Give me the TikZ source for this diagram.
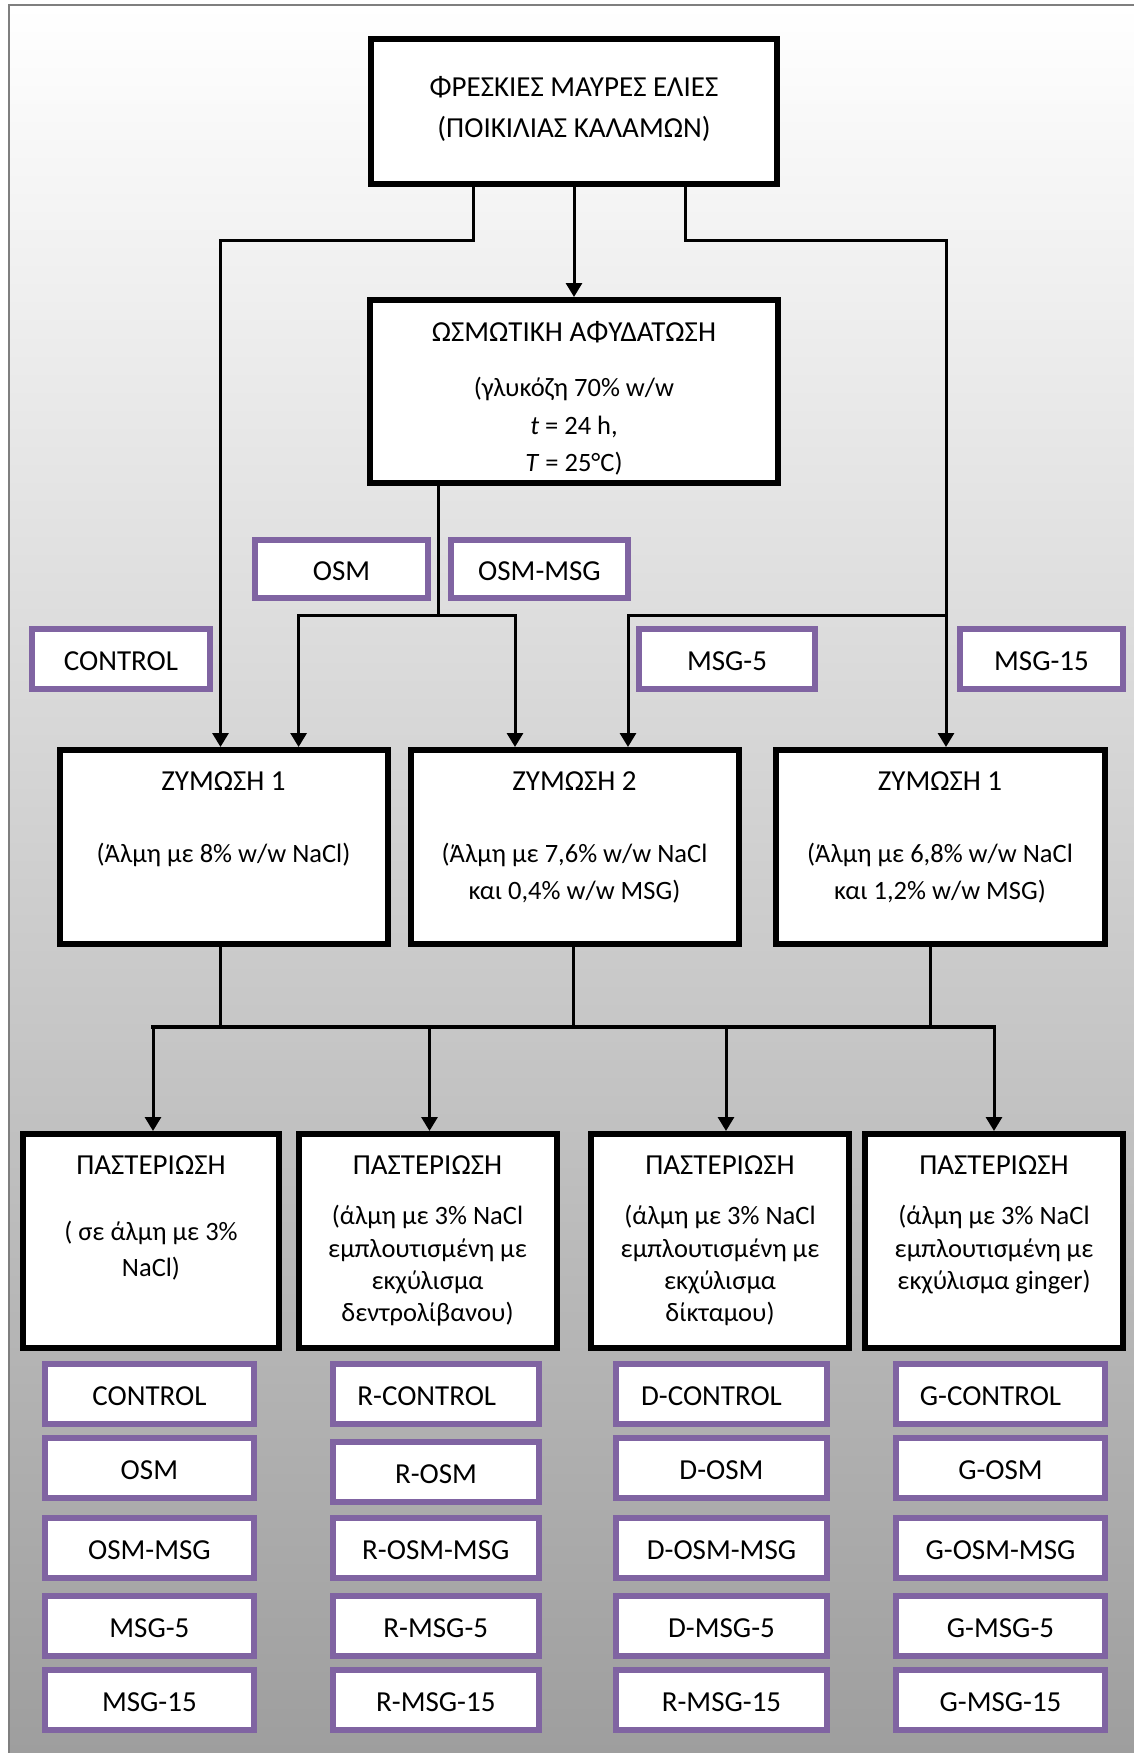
\documentclass[tikz,border=0pt]{standalone}
\usepackage{fontspec}
\setmainfont{Carlito}
\usetikzlibrary{arrows.meta}
\definecolor{purp}{HTML}{8064A2}
\definecolor{bgbot}{HTML}{9E9E9E}
\definecolor{framec}{HTML}{7F7F7F}
\begin{document}
\begin{tikzpicture}[x=1pt,y=-1pt,
  every node/.style={font=\fontsize{29}{35}\selectfont},
  bigbox/.style={draw=black, line width=6pt, fill=white, inner sep=0pt},
  tagbox/.style={draw=purp, line width=6pt, fill=white, inner sep=0pt, text height=23.1pt, text depth=0pt, minimum height=60pt},
  wire/.style={line width=3pt, draw=black},
  busline/.style={line width=4pt, draw=black, line cap=rect},
  arr/.style={wire, -{Triangle[width=16pt,length=14pt]}},
  txt/.style={anchor=base, inner sep=0pt},
  det/.style={txt, font=\fontsize{26.5}{32}\selectfont}
]
\useasboundingbox (0,0) rectangle (1134,1753);
\fill[white] (0,0) rectangle (1134,1753);
\shade[top color=white, bottom color=bgbot] (9.3,4.7) rectangle (1134,1753);
\draw[framec, line width=2pt] (9.3,1753) -- (9.3,4.7) -- (1134,4.7);

% main boxes
\node[bigbox, minimum width=406pt, minimum height=145pt] (A) at (574,111.5) {};
\node[bigbox, minimum width=408pt, minimum height=183pt] (B) at (574,391.5) {};
\node[bigbox, minimum width=328pt, minimum height=194pt] (C1) at (224,847) {};
\node[bigbox, minimum width=328pt, minimum height=194pt] (C2) at (575,847) {};
\node[bigbox, minimum width=329pt, minimum height=194pt] (C3) at (940.5,847) {};
\node[bigbox, minimum width=256.5pt, minimum height=214pt] (D1) at (151,1241) {};
\node[bigbox, minimum width=258pt, minimum height=214pt] (D2) at (427.5,1241) {};
\node[bigbox, minimum width=258.5pt, minimum height=214pt] (D3) at (720,1241) {};
\node[bigbox, minimum width=258pt, minimum height=214pt] (D4) at (994,1241) {};

% texts
\node[txt] (A1) at (574,96) {ΦΡΕΣΚΙΕΣ ΜΑΥΡΕΣ ΕΛΙΕΣ};
\node[txt] (A2) at (574,137) {(ΠΟΙΚΙΛΙΑΣ ΚΑΛΑΜΩΝ)};
\node[txt] (B1) at (574,341) {ΩΣΜΩΤΙΚΗ ΑΦΥΔΑΤΩΣΗ};
\node[det] (B2) at (574,396) {(γλυκόζη 70\% w/w};
\node[det] (B3) at (574,434) {\textit{t} = 24 h,};
\node[det] (B4) at (574,471) {\textit{T} = 25°C)};
\node[txt] (C1a) at (223.5,790) {ΖΥΜΩΣΗ 1};
\node[det] (C1b) at (223.5,862) {(Άλμη με 8\% w/w NaCl)};
\node[txt] (C2a) at (574.5,790) {ΖΥΜΩΣΗ 2};
\node[det] (C2b) at (574.5,862) {(Άλμη με 7,6\% w/w NaCl};
\node[det] (C2c) at (574.5,899) {και 0,4\% w/w MSG)};
\node[txt] (C3a) at (940,790) {ΖΥΜΩΣΗ 1};
\node[det] (C3b) at (940,862) {(Άλμη με 6,8\% w/w NaCl};
\node[det] (C3c) at (940,899) {και 1,2\% w/w MSG)};
\node[txt] (D1a) at (151,1174) {ΠΑΣΤΕΡΙΩΣΗ};
\node[det] (D1b) at (151,1240) {( σε άλμη με 3\%};
\node[det] (D1c) at (151,1276) {NaCl)};
\node[txt] (D2a) at (427.5,1174) {ΠΑΣΤΕΡΙΩΣΗ};
\node[det] (D2b) at (427.5,1224) {(άλμη με 3\% NaCl};
\node[det] (D2c) at (427.5,1257) {εμπλουτισμένη με};
\node[det] (D2d) at (427.5,1289) {εκχύλισμα};
\node[det] (D2e) at (427.5,1321) {δεντρολίβανου)};
\node[txt] (D3a) at (720,1174) {ΠΑΣΤΕΡΙΩΣΗ};
\node[det] (D3b) at (720,1224) {(άλμη με 3\% NaCl};
\node[det] (D3c) at (720,1257) {εμπλουτισμένη με};
\node[det] (D3d) at (720,1289) {εκχύλισμα};
\node[det] (D3e) at (720,1321) {δίκταμου)};
\node[txt] (D4a) at (994,1174) {ΠΑΣΤΕΡΙΩΣΗ};
\node[det] (D4b) at (994,1224) {(άλμη με 3\% NaCl};
\node[det] (D4c) at (994,1257) {εμπλουτισμένη με};
\node[det] (D4d) at (994,1289) {εκχύλισμα ginger)};

% top tags
\node[tagbox, minimum width=173pt, minimum height=58pt] (tOSM) at (341.5,569) {OSM};
\node[tagbox, minimum width=177pt, minimum height=58pt] (tOSMMSG) at (539.5,569) {OSM-MSG};
\node[tagbox, minimum width=177.6pt] (tCTRL) at (121,659) {CONTROL};
\node[tagbox, minimum width=176.5pt] (tMSG5) at (727,659) {MSG-5};
\node[tagbox, minimum width=163pt] (tMSG15) at (1041.5,659) {MSG-15};

% bottom tags
\node[tagbox, minimum width=208.7pt, minimum height=59.5pt] (g11) at (149.4,1393.8) {CONTROL};
\node[tagbox, minimum width=208.7pt] (g21) at (149.4,1467.9) {OSM};
\node[tagbox, minimum width=208.7pt] (g31) at (149.4,1548) {OSM-MSG};
\node[tagbox, minimum width=208.7pt] (g41) at (149.4,1626) {MSG-5};
\node[tagbox, minimum width=208.7pt] (g51) at (149.4,1700.3) {MSG-15};

\node[tagbox, minimum width=205.6pt, minimum height=59.5pt] (g12) at (435.8,1393.8) {R-CONTROL\kern18pt};
\node[tagbox, minimum width=205.6pt] (g22) at (436,1471.8) {R-OSM};
\node[tagbox, minimum width=205.6pt] (g32) at (435.8,1548) {R-OSM-MSG};
\node[tagbox, minimum width=205.6pt] (g42) at (435.8,1626) {R-MSG-5};
\node[tagbox, minimum width=205.6pt] (g52) at (435.8,1700.3) {R-MSG-15};

\node[tagbox, minimum width=211pt, minimum height=59.5pt] (g13) at (721.5,1393.8) {D-CONTROL\kern20pt};
\node[tagbox, minimum width=211pt] (g23) at (721.5,1467.9) {D-OSM};
\node[tagbox, minimum width=211pt] (g33) at (721.5,1548) {D-OSM-MSG};
\node[tagbox, minimum width=211pt] (g43) at (721.5,1626) {D-MSG-5};
\node[tagbox, minimum width=211pt] (g53) at (721.5,1700.3) {R-MSG-15};

\node[tagbox, minimum width=209pt, minimum height=59.5pt] (g14) at (1000.5,1393.8) {G-CONTROL\kern20pt};
\node[tagbox, minimum width=209pt] (g24) at (1000.5,1467.9) {G-OSM};
\node[tagbox, minimum width=209pt] (g34) at (1000.5,1548) {G-OSM-MSG};
\node[tagbox, minimum width=209pt] (g44) at (1000.5,1626) {G-MSG-5};
\node[tagbox, minimum width=209pt] (g54) at (1000.5,1700.3) {G-MSG-15};

% connectors
\coordinate (aL) at (473,240);
\coordinate (cL) at (220.5,240);
\coordinate (aR) at (685,240);
\coordinate (cR) at (946,240);
\draw[arr] (A.south -| aL) -- (aL) -- (cL) -- (cL |- C1.north);
\draw[arr] (A.south -| aR) -- (aR) -- (cR) -- (cR |- C3.north);
\draw[arr] (A.south) -- (B.north);

\coordinate (bJ) at (438,615);
\coordinate (bL) at (298.6,615);
\coordinate (bR) at (515,615);
\draw[wire] (B.south -| bJ) -- (bJ);
\draw[arr] (bJ) -- (bL) -- (bL |- C1.north);
\draw[arr] (bJ) -- (bR) -- (bR |- C2.north);

\coordinate (rJ) at (946,615);
\coordinate (rL) at (628,615);
\draw[arr] (rJ) -- (rL) -- (rL |- C2.north);

\coordinate (c1d) at (220.5,1027);
\coordinate (c2d) at (573.5,1027);
\coordinate (c3d) at (930.6,1027);
\coordinate (d1) at (153,1027);
\coordinate (d2) at (429.5,1027);
\coordinate (d3) at (726,1027);
\coordinate (d4) at (994,1027);
\draw[wire] (C1.south -| c1d) -- (c1d);
\draw[wire] (C2.south -| c2d) -- (c2d);
\draw[wire] (C3.south -| c3d) -- (c3d);
\draw[busline] (d1) -- (d4);
\draw[arr] (d1) -- (d1 |- D1.north);
\draw[arr] (d2) -- (d2 |- D2.north);
\draw[arr] (d3) -- (d3 |- D3.north);
\draw[arr] (d4) -- (d4 |- D4.north);
\end{tikzpicture}
\end{document}
